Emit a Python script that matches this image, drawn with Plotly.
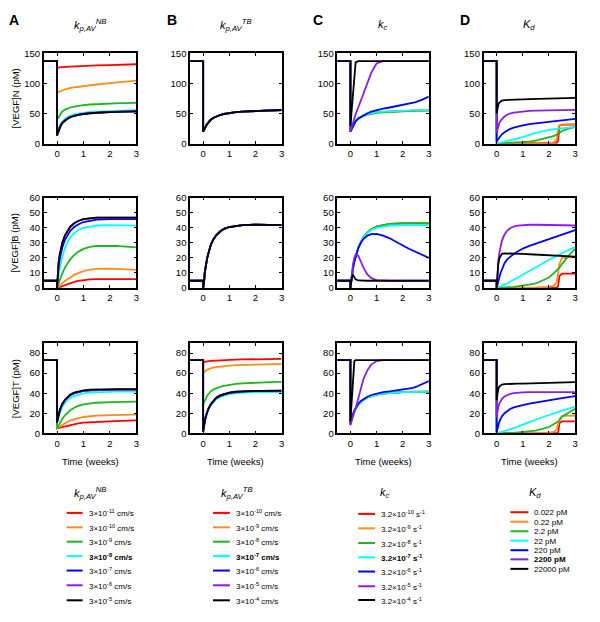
import plotly.graph_objects as go

# time grid (weeks); the repeated 0 gives the vertical drop at treatment start
T = [-0.5, 0, 0, 0.03, 0.06, 0.1, 0.15, 0.2, 0.3, 0.4, 0.5, 0.65,
     0.8, 1.0, 1.25, 1.5, 2.0, 2.2, 2.3, 2.35, 2.4, 2.5, 2.75, 3.0]

# ---- column A : kp,AV NB  (series order: red, orange, green, cyan, blue, purple, black)
A_N = [
    [137, 137, 126, 126, 126.3, 126.5, 126.8, 127, 127.3, 127.6, 127.9, 128.2, 128.5, 128.9, 129.4, 129.8, 130.5, 130.8, 130.9, 131, 131, 131.2, 131.5, 131.8],
    [137, 137, 85, 85.5, 86.5, 87.5, 88.5, 89.3, 90.5, 91.5, 92.5, 93.5, 94.5, 95.7, 97, 98.2, 100.3, 101, 101.4, 101.6, 101.8, 102.3, 103.3, 104.5],
    [137, 137, 40, 42, 45, 48, 51, 53.5, 56.5, 58.5, 60, 61.5, 62.8, 64, 65, 65.7, 66.5, 66.8, 67, 67, 67.1, 67.2, 67.4, 67.6],
    [137, 137, 18, 22, 26, 30, 34, 37, 41.5, 44.5, 46.5, 48.5, 50, 51.5, 52.5, 53.3, 54.3, 54.6, 54.8, 54.9, 55, 55.1, 55.3, 55.6],
    [137, 137, 14, 18, 23, 27, 31, 34.5, 39, 42, 44.2, 46.5, 48, 49.5, 50.7, 51.5, 52.5, 52.8, 53, 53, 53.1, 53.2, 53.3, 53.5],
    [137, 137, 14, 18, 23, 27, 31, 34.5, 39, 42, 44.2, 46.5, 48, 49.5, 50.7, 51.5, 52.5, 52.8, 53, 53, 53.1, 53.2, 53.3, 53.5],
    [137, 137, 13, 17, 22, 26.5, 30.5, 34, 38.5, 41.5, 43.8, 46, 47.6, 49.2, 50.5, 51.3, 52.3, 52.6, 52.8, 52.9, 53, 53.1, 53.3, 53.5],
]
A_B = [
    [4.8, 4.8, 0, 0.2, 0.4, 0.7, 1.1, 1.5, 2.2, 2.8, 3.4, 4.1, 4.7, 5.3, 5.7, 5.9, 6, 6, 6, 6, 6, 5.95, 5.9, 5.85],
    [4.8, 4.8, 0, 0.4, 0.9, 1.5, 2.4, 3.2, 4.7, 6, 7.2, 8.7, 9.9, 11.2, 12.2, 12.7, 12.9, 12.8, 12.8, 12.7, 12.7, 12.6, 12.3, 12],
    [4.8, 4.8, 0, 1.5, 3, 5, 7.5, 9.8, 13.5, 16.5, 19, 22, 24, 26, 27.3, 28, 28.2, 28, 27.9, 27.8, 27.8, 27.6, 27.3, 27],
    [4.8, 4.8, 0, 5, 9, 13, 17.5, 21, 26.5, 30.5, 33.5, 36.5, 38.5, 40, 41, 41.5, 41.8, 41.8, 41.7, 41.7, 41.7, 41.6, 41.5, 41.4],
    [4.8, 4.8, 0, 9, 14.5, 19, 23.5, 27, 32, 35.5, 38, 40.5, 42.2, 43.8, 44.8, 45.4, 45.8, 45.8, 45.8, 45.8, 45.8, 45.8, 45.8, 45.8],
    [4.8, 4.8, 0, 11, 17, 22, 26.5, 30, 35, 38.3, 40.7, 43, 44.5, 45.7, 46.4, 46.7, 46.8, 46.8, 46.8, 46.8, 46.8, 46.8, 46.8, 46.8],
    [4.8, 4.8, 0, 11, 17, 22, 26.5, 30, 35, 38.3, 40.7, 43, 44.5, 45.7, 46.4, 46.7, 46.8, 46.8, 46.8, 46.8, 46.8, 46.8, 46.8, 46.8],
]
A_T = [
    [73, 73, 5, 5.2, 5.5, 5.8, 6.2, 6.6, 7.3, 8, 8.6, 9.4, 10, 10.6, 11.1, 11.5, 12, 12.2, 12.3, 12.3, 12.4, 12.5, 12.7, 12.9],
    [73, 73, 5, 5.5, 6.2, 7, 8, 8.8, 10.3, 11.6, 12.7, 14.1, 15.2, 16.3, 17.2, 17.7, 18.2, 18.3, 18.3, 18.4, 18.4, 18.4, 18.5, 18.6],
    [73, 73, 5, 6.5, 8.5, 10.5, 12.5, 14.5, 18, 20.8, 23, 25.5, 27.3, 28.8, 29.9, 30.5, 31.1, 31.2, 31.3, 31.3, 31.4, 31.4, 31.5, 31.6],
    [73, 73, 12, 14.5, 17, 20, 23.5, 26.5, 30.5, 33.3, 35.3, 37.3, 38.7, 39.8, 40.6, 41, 41.4, 41.5, 41.5, 41.5, 41.5, 41.5, 41.5, 41.5],
    [73, 73, 11, 15, 19, 22.5, 26, 29, 33, 36, 38, 40, 41.2, 42.2, 42.9, 43.2, 43.5, 43.5, 43.5, 43.5, 43.5, 43.5, 43.5, 43.5],
    [73, 73, 11, 15, 19, 22.5, 26, 29, 33, 36, 38, 40, 41.2, 42.2, 42.9, 43.2, 43.5, 43.5, 43.5, 43.5, 43.5, 43.5, 43.5, 43.5],
    [73, 73, 10.5, 15, 19.5, 23, 26.5, 29.5, 33.5, 36.5, 38.6, 40.6, 41.8, 42.8, 43.5, 43.8, 44, 44, 44, 44, 44, 44, 44, 44],
]

# ---- column B : kp,AV TB
B_N_all = [137, 137, 20, 22, 25, 28.5, 32.5, 35.5, 40, 43, 45.3, 47.5, 49.2, 50.8, 52.3, 53.3, 54.5, 54.8, 55, 55.1, 55.2, 55.4, 55.6, 55.8]
B_B_all = [4.8, 4.8, 0, 3, 10, 15, 19.5, 23, 29, 32.5, 35, 37.5, 39.3, 40.5, 41.3, 41.7, 42, 42, 42, 42, 41.9, 41.9, 41.8, 41.7]
B_N = [B_N_all] * 7
B_B = [B_B_all] * 7
B_T = [
    [73, 73, 71, 71.2, 71.4, 71.6, 71.8, 72, 72.2, 72.4, 72.6, 72.8, 73, 73.2, 73.4, 73.6, 73.8, 73.9, 73.9, 74, 74, 74, 74.1, 74.2],
    [73, 73, 60, 60.8, 61.6, 62.5, 63.3, 64, 65, 65.6, 66, 66.6, 67, 67.5, 67.9, 68.2, 68.6, 68.7, 68.8, 68.8, 68.8, 68.9, 69, 69],
    [73, 73, 29, 31, 33, 35, 37.3, 39, 42, 43.8, 45, 46.4, 47.3, 48.3, 49.2, 49.8, 50.6, 50.8, 50.9, 51, 51, 51.1, 51.2, 51.3],
    [73, 73, 3, 8, 12, 15.5, 20, 23.5, 28, 31.5, 34, 36.2, 37.7, 39, 40, 40.5, 41, 41, 41, 41, 41, 41.1, 41.1, 41.1],
    [73, 73, 2, 8, 12.5, 16.5, 21, 24.5, 29, 32.5, 35, 37.3, 38.8, 40, 41, 41.5, 42, 42.1, 42.1, 42.1, 42.1, 42.2, 42.2, 42.3],
    [73, 73, 1.5, 8, 12.5, 16.5, 21, 24.5, 29.5, 33, 35.5, 37.8, 39.3, 40.5, 41.5, 42, 42.3, 42.4, 42.4, 42.4, 42.5, 42.5, 42.5, 42.6],
    [73, 73, 1.5, 8, 12.5, 16.5, 21, 24.5, 29.5, 33, 35.5, 37.8, 39.3, 40.5, 41.5, 42, 42.3, 42.4, 42.4, 42.4, 42.5, 42.5, 42.5, 42.6],
]

# ---- column C : kc
C_N = [
    [137, 137, 20, 23, 27, 31, 35, 38, 42, 45, 47, 49, 50.5, 51.8, 52.8, 53.5, 54.3, 54.6, 54.7, 54.8, 54.9, 55, 55.2, 55.4],
    [137, 137, 20, 23, 27, 31, 35, 38, 42, 45, 47, 49, 50.5, 51.8, 52.8, 53.5, 54.3, 54.6, 54.7, 54.8, 54.9, 55, 55.2, 55.4],
    [137, 137, 20, 22.5, 26.5, 30.5, 34.5, 37.5, 41.5, 44.3, 46.3, 48.3, 49.7, 51, 52, 52.8, 53.8, 54.1, 54.3, 54.4, 54.5, 54.7, 55, 55.3],
    [137, 137, 21, 23.5, 27.5, 31.5, 35.5, 38.5, 42.5, 45.5, 47.5, 49.5, 51, 52.2, 53.2, 53.9, 54.7, 55, 55.1, 55.2, 55.3, 55.4, 55.6, 55.8],
    [137, 137, 20, 23, 26, 30, 34, 37, 41.5, 44.5, 47.5, 50.5, 53, 55.6, 58, 60, 64, 65.5, 66.5, 67, 67.5, 69, 73, 78],
    [137, 137, 20, 25, 30, 36, 43, 49, 60, 72, 85, 103, 118, 133, 137, 137, 137, 137, 137, 137, 137, 137, 137, 137],
    [137, 137, 30, 45, 65, 90, 118, 135, 137, 137, 137, 137, 137, 137, 137, 137, 137, 137, 137, 137, 137, 137, 137, 137],
]
C_B = [
    [4.8, 4.8, 0, 5, 9, 13, 17.5, 21, 26.5, 30.5, 33.8, 37, 39, 40.8, 41.9, 42.5, 42.9, 43, 43, 43, 43, 43, 43, 43],
    [4.8, 4.8, 0, 5, 9, 13, 17.5, 21, 26.5, 30.5, 33.8, 37, 39, 40.8, 41.9, 42.5, 42.9, 43, 43, 43, 43, 43, 43, 43],
    [4.8, 4.8, 0, 5, 9, 13, 17.5, 21, 26.5, 30.5, 33.8, 37, 39, 40.8, 41.9, 42.5, 42.9, 43, 43, 43, 43, 43, 43, 43],
    [4.8, 4.8, 0, 5, 9, 13, 17.5, 21, 26.5, 30.5, 33.5, 36.5, 38.5, 40, 41, 41.5, 41.8, 41.8, 41.8, 41.8, 41.8, 41.8, 41.8, 41.8],
    [4.8, 4.8, 0, 5, 9, 13, 17.5, 21, 26.5, 30, 32.5, 34.8, 35.8, 36, 34.8, 33, 28, 26.4, 25.6, 25.2, 24.8, 24, 22, 20],
    [4.8, 4.8, 0, 6, 11, 16, 20, 22.3, 21.5, 17.5, 13.5, 9, 6.5, 5.2, 4.9, 4.8, 4.8, 4.8, 4.8, 4.8, 4.8, 4.8, 4.8, 4.8],
    [4.8, 4.8, 0, 4, 7.5, 8.5, 7.2, 5.8, 5, 4.8, 4.8, 4.8, 4.8, 4.8, 4.8, 4.8, 4.8, 4.8, 4.8, 4.8, 4.8, 4.8, 4.8, 4.8],
]
C_T = [
    [73, 73, 10, 12.5, 15, 18, 21.5, 24.5, 28.5, 31.5, 33.5, 35.7, 37.2, 38.5, 39.6, 40.3, 41, 41.2, 41.3, 41.3, 41.4, 41.4, 41.5, 41.6],
    [73, 73, 10, 12.5, 15, 18, 21.5, 24.5, 28.5, 31.5, 33.5, 35.7, 37.2, 38.5, 39.6, 40.3, 41, 41.2, 41.3, 41.3, 41.4, 41.4, 41.5, 41.6],
    [73, 73, 10, 12.5, 15, 18, 21.5, 24.5, 28.5, 31.5, 33.5, 35.7, 37.2, 38.5, 39.6, 40.3, 41, 41.2, 41.3, 41.3, 41.4, 41.4, 41.5, 41.6],
    [73, 73, 10, 12.5, 15, 18, 21.5, 24.5, 28.5, 31.5, 33.5, 35.7, 37.2, 38.5, 39.6, 40.3, 41, 41.2, 41.3, 41.3, 41.4, 41.4, 41.5, 41.6],
    [73, 73, 9, 13, 16.5, 19.5, 23, 25.5, 29.5, 32.3, 34.3, 36.5, 38.2, 39.7, 41, 41.8, 43.5, 44.3, 44.8, 45.1, 45.4, 46.2, 48.8, 52],
    [73, 73, 8, 11, 14.5, 18.5, 22, 25, 34, 45, 54, 63, 68.5, 72, 73, 73, 73, 73, 73, 73, 73, 73, 73, 73],
    [73, 73, 12, 25, 45, 62, 72, 73, 73, 73, 73, 73, 73, 73, 73, 73, 73, 73, 73, 73, 73, 73, 73, 73],
]

# ---- column D : Kd
D_N = [
    [137, 137, 0.5, 0.5, 0.5, 0.5, 0.5, 0.5, 0.5, 0.5, 0.5, 0.5, 0.5, 0.5, 0.5, 0.6, 0.8, 1, 1.5, 5, 30, 31.5, 32, 32],
    [137, 137, 0.5, 0.5, 0.5, 0.5, 0.5, 0.5, 0.5, 0.5, 0.5, 0.5, 0.6, 0.6, 0.7, 0.8, 1, 2, 8, 25, 30, 30.5, 30.8, 31],
    [137, 137, 0, 0.2, 0.3, 0.5, 0.7, 0.9, 1.1, 1.3, 1.5, 1.8, 2.1, 2.5, 3.5, 5, 10, 13, 15, 16.5, 18, 21, 25, 28],
    [137, 137, 0, 0.3, 0.6, 1, 1.5, 2, 3, 4, 5, 6.7, 8.3, 11, 14.5, 18, 23, 24.2, 24.8, 25, 25.3, 25.8, 27, 28],
    [137, 137, 4, 6, 8, 10.5, 13, 15.5, 19, 22, 24, 26.5, 28.5, 30.5, 32.5, 34, 36.5, 37.3, 37.7, 38, 38.2, 38.6, 39.8, 41],
    [137, 137, 18, 24, 29, 34, 38, 41, 45, 48, 50, 51.5, 52.5, 53.5, 54.3, 54.8, 55.3, 55.5, 55.6, 55.6, 55.7, 55.7, 55.8, 56],
    [137, 137, 50, 58, 64, 68, 70.5, 71.5, 72.3, 72.6, 72.8, 73, 73.2, 73.5, 73.8, 74.1, 74.6, 74.8, 74.9, 75, 75, 75.2, 75.6, 76],
]
D_B = [
    [4.8, 4.8, 0, 0, 0, 0, 0, 0, 0, 0, 0, 0, 0, 0, 0, 0, 0, 0.1, 0.3, 1, 8, 9.5, 9.5, 9.5],
    [4.8, 4.8, 0, 0, 0, 0, 0, 0, 0, 0.1, 0.1, 0.1, 0.2, 0.2, 0.3, 0.4, 0.8, 1.5, 4, 10, 16, 20, 20.3, 20.5],
    [4.8, 4.8, 0, 0, 0.1, 0.1, 0.2, 0.2, 0.3, 0.4, 0.5, 0.7, 1, 1.5, 2.2, 3, 7, 10, 11.5, 12.5, 13.5, 16, 21.5, 26],
    [4.8, 4.8, 0, 0.2, 0.4, 0.7, 1.1, 1.5, 2.3, 3.1, 4, 5.4, 6.8, 8.8, 11.3, 13.8, 18.8, 20.6, 21.5, 21.9, 22.3, 23.1, 25.2, 27.2],
    [4.8, 4.8, 0, 2.5, 4.5, 7, 10, 12.5, 16.5, 19, 20.5, 22.5, 24.3, 26.2, 28, 29.5, 32.2, 33.3, 33.8, 34.1, 34.4, 35, 36.7, 38.4],
    [4.8, 4.8, 0, 10, 17, 23, 28, 31.5, 35.5, 38, 39.5, 40.8, 41.4, 41.8, 42, 42, 42, 42, 41.9, 41.9, 41.9, 41.8, 41.7, 41.5],
    [4.8, 4.8, 0, 9, 15.5, 19.5, 21.8, 22.7, 23, 23, 23, 22.9, 22.8, 22.6, 22.4, 22.2, 21.8, 21.6, 21.5, 21.5, 21.4, 21.3, 21, 20.8],
]
D_T = [
    [73, 73, 0, 0, 0, 0, 0, 0, 0, 0, 0, 0, 0, 0, 0, 0, 0, 0.1, 0.2, 0.5, 10, 12, 12, 12],
    [73, 73, 0, 0, 0, 0, 0, 0, 0, 0.1, 0.1, 0.1, 0.2, 0.2, 0.3, 0.4, 0.8, 1.5, 4, 9, 14, 17.5, 17.8, 17.8],
    [73, 73, 0, 0, 0.1, 0.1, 0.1, 0.2, 0.3, 0.3, 0.4, 0.6, 0.9, 1.3, 2, 2.8, 6.3, 9, 10.8, 11.8, 13, 16.5, 20.5, 24.5],
    [73, 73, 0, 0.2, 0.4, 0.7, 1.1, 1.5, 2.3, 3.1, 4, 5.3, 6.6, 8.7, 11.2, 13.8, 18.5, 20.2, 21, 21.5, 21.9, 22.7, 24.7, 26.5],
    [73, 73, 1, 5, 8, 11.5, 14.5, 17, 20, 22.3, 24, 25.8, 27, 28.2, 29.6, 30.8, 33, 33.8, 34.2, 34.4, 34.6, 35, 36, 37],
    [73, 73, 16, 22, 26, 29.5, 32.3, 34.2, 36.7, 38.2, 39.2, 40, 40.5, 40.9, 41.1, 41.2, 41.3, 41.3, 41.3, 41.3, 41.3, 41.2, 41.2, 41.1],
    [73, 73, 33, 40, 44, 46.5, 48, 48.6, 49, 49.2, 49.3, 49.4, 49.5, 49.6, 49.8, 50, 50.3, 50.4, 50.5, 50.5, 50.5, 50.6, 50.8, 51],
]

COLORS = ['#ff0000', '#ff8c1a', '#1cb81c', '#00ffff', '#0000ff', '#8a1ee6', '#000000']

TITLES = ['<i>k<sub>p,AV</sub><sup>NB</sup></i>', '<i>k<sub>p,AV</sub><sup>TB</sup></i>',
          '<i>k<sub>c</sub></i>', '<i>K<sub>d</sub></i>']
LETTERS = ['A', 'B', 'C', 'D']
Y_TITLES = ['[VEGF]N (pM)', '[VEGF]B (pM)', '[VEGF]T (pM)']

LEG_A = ['3×10<sup>-11</sup> cm/s', '3×10<sup>-10</sup> cm/s', '3×10<sup>-9</sup> cm/s', '<b>3×10<sup>-8</sup> cm/s</b>',
         '3×10<sup>-7</sup> cm/s', '3×10<sup>-6</sup> cm/s', '3×10<sup>-5</sup> cm/s']
LEG_B = ['3×10<sup>-10</sup> cm/s', '3×10<sup>-9</sup> cm/s', '3×10<sup>-8</sup> cm/s', '<b>3×10<sup>-7</sup> cm/s</b>',
         '3×10<sup>-6</sup> cm/s', '3×10<sup>-5</sup> cm/s', '3×10<sup>-4</sup> cm/s']
LEG_C = ['3.2×10<sup>-10</sup> s<sup>-1</sup>', '3.2×10<sup>-9</sup> s<sup>-1</sup>', '3.2×10<sup>-8</sup> s<sup>-1</sup>',
         '<b>3.2×10<sup>-7</sup> s<sup>-1</sup></b>', '3.2×10<sup>-6</sup> s<sup>-1</sup>',
         '3.2×10<sup>-5</sup> s<sup>-1</sup>', '3.2×10<sup>-4</sup> s<sup>-1</sup>']
LEG_D = ['0.022 pM', '0.22 pM', '2.2 pM', '22 pM', '220 pM', '<b>2200 pM</b>', '22000 pM']

panels = [[A_N, A_B, A_T], [B_N, B_B, B_T], [C_N, C_B, C_T], [D_N, D_B, D_T]]

# the page body adds an 8px margin, so the figure is drawn 8px smaller and
# all positions below (given in window pixels) are shifted by that margin
PAGE = 8
W, H = 600 - PAGE, 622 - PAGE
FONT = 'Liberation Sans, Arial, sans-serif'
col_px = [(44, 137), (191, 283), (339, 431), (486, 578)]
row_px = [(48, 140), (195, 287), (343, 435)]
y_ranges = [[0, 150], [0, 60], [0, 90]]
y_ticks = [[0, 50, 100, 150], [0, 10, 20, 30, 40, 50, 60], [0, 20, 40, 60, 80]]


def px(x):
    return (x - PAGE) / W


def py(y):
    return 1 - (y - PAGE) / H


def note(text, x, y, size, xanchor='center', **kw):
    return dict(text=text, x=px(x), y=py(y), xref='paper', yref='paper', showarrow=False,
                xanchor=xanchor, yanchor='middle',
                font=dict(size=size, family=FONT, color='black'), **kw)


fig = go.Figure()
layout = dict(width=W, height=H, margin=dict(l=0, r=0, t=0, b=0),
              paper_bgcolor='white', plot_bgcolor='white', showlegend=False,
              font=dict(family=FONT, color='black'))
annotations = []
shapes = []

axis_style = dict(showline=True, linecolor='black', linewidth=1.5, mirror='ticks',
                  ticks='inside', ticklen=3, tickwidth=1, tickcolor='black',
                  showgrid=False, zeroline=False, tickfont=dict(size=9.5, family=FONT))

for c in range(4):
    for r in range(3):
        k = r * 4 + c + 1
        sfx = '' if k == 1 else str(k)
        layout['xaxis' + sfx] = dict(domain=[px(col_px[c][0]), px(col_px[c][1])], range=[-0.5, 3],
                                     tickvals=[0, 1, 2, 3], anchor='y' + sfx, **axis_style)
        layout['yaxis' + sfx] = dict(domain=[py(row_px[r][1]), py(row_px[r][0])], range=y_ranges[r],
                                     tickvals=y_ticks[r], anchor='x' + sfx, **axis_style)
        for series, color in zip(panels[c][r], COLORS):
            fig.add_trace(go.Scatter(x=T, y=series, mode='lines', xaxis='x' + sfx, yaxis='y' + sfx,
                                     line=dict(color=color, width=1.8), hoverinfo='skip'))

    cx = (col_px[c][0] + col_px[c][1]) / 2
    annotations.append(note('<b>' + LETTERS[c] + '</b>', [14, 173, 320, 467][c], 14, 14))
    annotations.append(note(TITLES[c], cx, 19, 11))
    annotations.append(note('Time (weeks)', cx, 464, 9.5))

for r in range(3):
    annotations.append(note(Y_TITLES[r], 15, (row_px[r][0] + row_px[r][1]) / 2, 9.5, textangle=-90))

# hand-drawn legends under each column
legends = [
    (LEG_A, TITLES[0], 90, (67, 83), [516, 530.7, 545.3, 560, 574.7, 589.7, 605]),
    (LEG_B, TITLES[1], 238, (214, 231), [516, 530.7, 545.3, 560, 574.7, 589.7, 605]),
    (LEG_C, TITLES[2], 387, (360, 377), [517, 531.7, 546.7, 561.3, 575.7, 590.7, 604.7]),
    (LEG_D, TITLES[3], 538, (513, 531), [515.3, 525, 534.7, 544.3, 554, 563.3, 573]),
]
for labels, title, tx, (lx0, lx1), ys in legends:
    annotations.append(note(title, tx, 496, 11))
    for label, color, yy in zip(labels, COLORS, ys):
        shapes.append(dict(type='line', xref='paper', yref='paper', x0=px(lx0), x1=px(lx1),
                           y0=py(yy), y1=py(yy), line=dict(color=color, width=2)))
        annotations.append(note(label, lx1 + 4, yy + 0.5, 8, xanchor='left'))

layout['annotations'] = annotations
layout['shapes'] = shapes
fig.update_layout(layout)
fig.write_html("out.html")
